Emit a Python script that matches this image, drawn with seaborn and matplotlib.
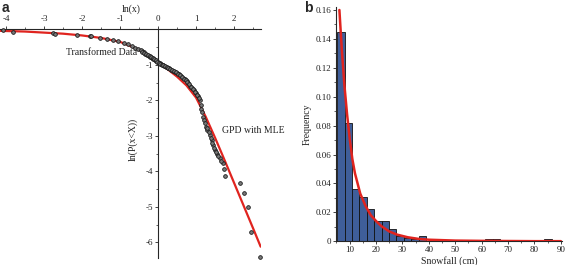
import matplotlib
matplotlib.use("Agg")
import matplotlib.pyplot as plt
import matplotlib.ticker as mticker
import numpy as np
import pandas as pd
import seaborn as sns

# panel a: transformed data, ln(x) vs ln(P(x<X))
ln_x_pts = [-4.07, -3.81, -2.76, -2.70, -2.14, -1.80, -1.77, -1.53, -1.33, -1.18,
            -1.04, -0.89, -0.78, -0.69, -0.60, -0.52, -0.43, -0.38, -0.33, -0.28,
            -0.24, -0.20, -0.16, -0.12, -0.08, -0.04, 0.00, 0.04, 0.08, 0.12,
            0.16, 0.20, 0.25, 0.30, 0.35, 0.40, 0.45, 0.50, 0.55, 0.60,
            0.65, 0.70, 0.75, 0.80, 0.85, 0.90, 0.95, 1.00, 1.05, 1.10,
            1.14, 1.19, 1.21, 1.26, 1.30, 1.37, 1.41, 1.45, 1.50, 1.54,
            1.63, 1.70, 1.73, 1.77, 2.16, 2.25, 2.38, 2.44, 2.68,
            -0.46, -0.41, -0.36, -0.31, -0.26, -0.22, -0.18, -0.14, -0.10, -0.06,
            -0.02, 0.02, 0.06, 0.10, 0.14, 0.18, 0.225, 0.275, 0.325, 0.375,
            0.425, 0.475, 0.525, 0.575, 0.625, 0.675, 0.725, 0.775, 0.825, 0.875,
            0.925, 0.975, 1.025, 1.075, 1.12, 1.16, 1.24, 1.28, 1.33, 1.39,
            1.43, 1.47, 1.52, 1.58, 1.66]
ln_p_pts = [-0.03, -0.06, -0.10, -0.12, -0.16, -0.18, -0.19, -0.23, -0.27, -0.30,
            -0.33, -0.37, -0.41, -0.46, -0.52, -0.56, -0.62, -0.65, -0.68, -0.71,
            -0.74, -0.77, -0.80, -0.83, -0.86, -0.89, -0.92, -0.95, -0.98, -1.00,
            -1.03, -1.05, -1.08, -1.10, -1.13, -1.16, -1.19, -1.22, -1.27, -1.31,
            -1.36, -1.41, -1.46, -1.52, -1.58, -1.64, -1.71, -1.79, -1.88, -2.00,
            -2.23, -2.46, -2.55, -2.74, -2.84, -2.98, -3.12, -3.26, -3.40, -3.50,
            -3.63, -3.76, -3.94, -4.13, -4.34, -4.60, -5.01, -5.70, -6.40,
            -0.59, -0.635, -0.665, -0.695, -0.725, -0.755, -0.785, -0.815, -0.845, -0.875,
            -0.905, -0.935, -0.965, -0.99, -1.015, -1.04, -1.065, -1.095, -1.115, -1.145,
            -1.175, -1.205, -1.245, -1.29, -1.335, -1.385, -1.435, -1.49, -1.55, -1.61,
            -1.675, -1.75, -1.835, -1.94, -2.12, -2.33, -2.65, -2.79, -2.90, -3.05,
            -3.19, -3.33, -3.45, -3.57, -3.70]

# panel a: GPD fitted with MLE
ln_x_fit = [-4.15, -4.0, -3.5, -3.0, -2.5, -2.0, -1.5, -1.0, -0.5, 0.0,
            0.25, 0.5, 0.75, 1.0, 1.25, 1.5, 1.75, 2.0, 2.25, 2.5, 2.7]
ln_p_fit = [-0.04, -0.045, -0.06, -0.09, -0.12, -0.17, -0.24, -0.35, -0.57, -0.94,
            -1.12, -1.33, -1.58, -1.92, -2.45, -3.05, -3.68, -4.32, -4.96, -5.60, -6.12]

# panel b: snowfall histogram (density per bin)
bin_start = 5.3
bin_width = 2.8
freq = [0.145, 0.082, 0.0365, 0.0305, 0.0225, 0.0143, 0.0143, 0.0083, 0.0038, 0.0025,
        0.0016, 0.0036, 0.0004, 0.0, 0.0, 0.0, 0.0012, 0.0012, 0.0, 0.0,
        0.0013, 0.0013, 0.0, 0.0, 0.0, 0.0, 0.0, 0.0, 0.0018, 0.0]

# panel b: fitted GPD density
snow_fit = [6.1, 7, 8, 9, 10, 11, 12, 14, 16, 18, 20, 22, 25, 28, 32, 36, 40, 50, 60, 70, 80, 90]
dens_fit = [0.160, 0.133, 0.108, 0.088, 0.071, 0.057, 0.047, 0.033, 0.0245, 0.018, 0.014,
            0.0105, 0.0068, 0.0046, 0.0028, 0.0017, 0.0011, 0.0005, 0.0003, 0.0002, 0.0001, 0.0001]

sns.set_style("ticks")
plt.rcParams["font.family"] = ["Liberation Serif", "DejaVu Serif"]
plt.rcParams["axes.unicode_minus"] = False

red = "#e0241f"
fig = plt.figure(figsize=(5.66, 2.65), dpi=100)

# ---- panel a
ax1 = fig.add_axes([0.0005, 0.025, 0.46, 0.864])
sns.lineplot(x=ln_x_fit, y=ln_p_fit, color=red, lw=1.6, ax=ax1, zorder=2)
sns.scatterplot(x=ln_x_pts, y=ln_p_pts, s=7, color="#7a7a7a", edgecolor="#1a1a1a",
                linewidth=0.6, ax=ax1, zorder=3, clip_on=False)
ax1.set_xlim(-4.15, 2.7)
ax1.set_ylim(-6.45, 0)
for s in ["right", "bottom"]:
    ax1.spines[s].set_visible(False)
ax1.spines["left"].set_position(("data", 0))
ax1.spines["left"].set_linewidth(0.8)
ax1.spines["top"].set_linewidth(0.8)
ax1.xaxis.set_ticks_position("top")
ax1.xaxis.set_label_position("top")
ax1.set_xticks(range(-4, 3))
ax1.set_yticks(range(-6, 0))
ax1.xaxis.set_minor_locator(mticker.MultipleLocator(0.5))
ax1.yaxis.set_minor_locator(mticker.MultipleLocator(0.5))
ax1.tick_params(which="major", direction="out", length=2.5, width=0.6,
                labelsize=6.5, pad=1.2, colors="#222222")
ax1.tick_params(axis="x", which="major", pad=2.2)
ax1.tick_params(which="minor", direction="out", length=1.4, width=0.5, colors="#222222")
ax1.set_xlabel("ln(x)", fontsize=7, color="#222222")
ax1.xaxis.set_label_coords(0.503, 1.078)
ax1.set_ylabel("")
ax1.text(-0.66, -3.1, "ln(P(x<X))", rotation=90, fontsize=7, ha="center", va="center",
         color="#222222")
ax1.text(-0.55, -0.64, "Transformed Data", fontsize=7, ha="right", va="center",
         color="#222222")
ax1.text(1.68, -2.84, "GPD with MLE", fontsize=7, ha="left", va="center",
         color="#222222", clip_on=False)

# ---- panel b
ax2 = fig.add_axes([0.5945, 0.0894, 0.3988, 0.8838])
edges = [bin_start + bin_width * i for i in range(len(freq) + 1)]
centers = [(edges[i] + edges[i + 1]) / 2 for i in range(len(freq))]
hist_df = pd.DataFrame({"snowfall": centers, "freq": freq})
sns.histplot(data=hist_df, x="snowfall", weights="freq", bins=edges, color="#3f5e9a",
             edgecolor="#111111", linewidth=0.6, alpha=1, ax=ax2, zorder=2)
sns.lineplot(x=snow_fit, y=dens_fit, color=red, lw=1.8, ax=ax2, zorder=3)
ax2.set_xlim(5, 90.5)
ax2.set_ylim(0, 0.162)
sns.despine(ax=ax2)
ax2.spines["left"].set_linewidth(0.8)
ax2.spines["bottom"].set_linewidth(0.8)
ax2.set_xticks(range(10, 91, 10))
ax2.set_yticks(np.arange(0, 0.161, 0.02))
ax2.xaxis.set_minor_locator(mticker.MultipleLocator(5))
ax2.yaxis.set_minor_locator(mticker.MultipleLocator(0.01))
ax2.yaxis.set_major_formatter(mticker.FuncFormatter(lambda v, p: "0" if abs(v) < 1e-9 else f"{v:.2f}"))
ax2.tick_params(which="major", direction="out", length=2.5, width=0.6,
                labelsize=6.5, pad=1.2, colors="#222222")
ax2.tick_params(which="minor", direction="out", length=1.4, width=0.5, colors="#222222")
ax2.set_xlabel("Snowfall (cm)", fontsize=7, labelpad=1, color="#222222")
ax2.set_ylabel("Frequency", fontsize=7, labelpad=3, color="#222222")

fig.text(0.002, 0.998, "a", fontsize=10, fontweight="bold", family="Liberation Sans",
         ha="left", va="top")
fig.text(0.537, 0.998, "b", fontsize=10, fontweight="bold", family="Liberation Sans",
         ha="left", va="top")

fig.savefig("out.png", dpi=100)
